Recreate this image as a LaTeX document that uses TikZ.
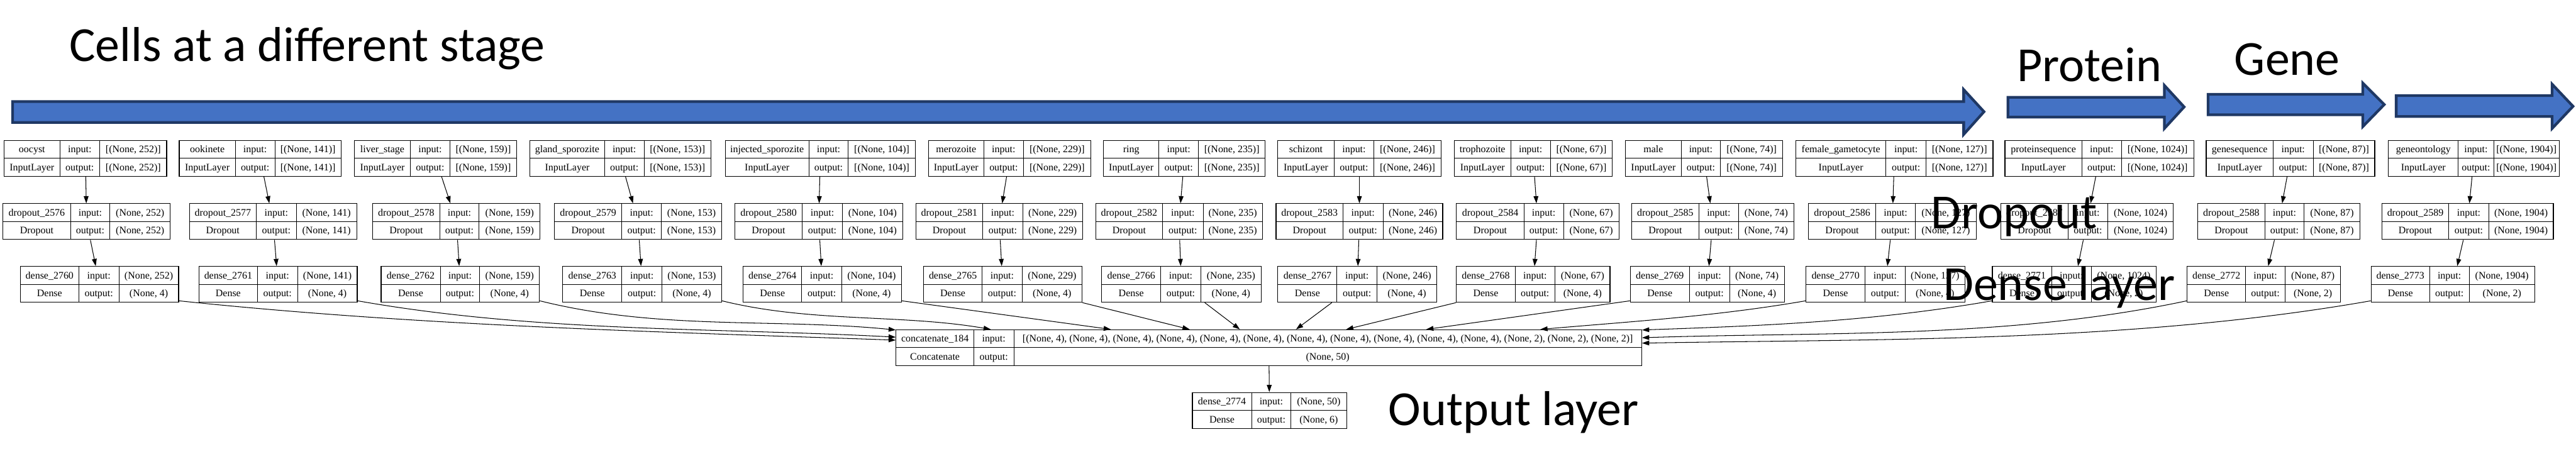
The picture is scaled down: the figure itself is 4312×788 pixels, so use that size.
\documentclass[tikz,border=0pt]{standalone}
\usepackage{fontspec}
\setmainfont{Liberation Serif}
\newfontfamily\calfont{Carlito}
\usetikzlibrary{arrows.meta,fit}
\definecolor{arrowfill}{HTML}{4472C4}
\definecolor{arrowline}{HTML}{1F3864}
\tikzset{
  kbframe/.style={draw=black, line width=1.2pt, inner sep=0pt},
  kbline/.style={draw=black, line width=0.9pt},
  kbtext/.style={font=\fontsize{16.8}{18}\selectfont, inner sep=0pt, anchor=base},
  karrow/.style={draw=black, line width=1.1pt, -{Triangle[length=12pt,width=8pt]}},
  bigtext/.style={font=\calfont\fontsize{82}{90}\selectfont, inner sep=0pt, anchor=base west},
  blockarrow/.style={fill=arrowfill, draw=arrowline, line width=4.5pt, line join=miter},
}
% #1 name, #2 x0, #3 x1, #4 x2, #5 x3, #6 top, #7 label, #8 class, #9 in shape, then {out shape}
\newcommand\kbox[9]{%
  \node[kbframe, fit={(#2,-#6) (#5,-#6-60)}] (#1) {};
  \draw[kbline] (#3,-#6) -- (#3,-#6-60) (#4,-#6) -- (#4,-#6-60) (#2,-#6-30) -- (#5,-#6-30);
  \node[kbtext] (#1-n) at ({(#2+#3)/2},-#6-20.5) {#7};
  \node[kbtext] (#1-c) at ({(#2+#3)/2},-#6-50.5) {#8};
  \node[kbtext] (#1-i) at ({(#3+#4)/2},-#6-20.5) {input:};
  \node[kbtext] (#1-o) at ({(#3+#4)/2},-#6-50.5) {output:};
  \node[kbtext] (#1-si) at ({(#4+#5)/2},-#6-20.5) {#9};
  \kboxout{#1}{#4}{#5}{#6}}
\newcommand\kboxout[5]{\node[kbtext] (#1-so) at ({(#2+#3)/2},-#4-50.5) {#5};}

\begin{document}
\begin{tikzpicture}[x=1pt,y=1pt]
\fill[white] (0,0) rectangle (4312,-788);
\useasboundingbox (0,0) rectangle (4312,-788);

% block arrows
\draw[blockarrow] (21,-170) -- (3287,-170) -- (3287,-150) -- (3321,-187) -- (3287,-225) -- (3287,-205) -- (21,-205) -- cycle;
\draw[blockarrow] (3361,-163) -- (3623,-163) -- (3623,-143) -- (3656,-179) -- (3623,-215) -- (3623,-196) -- (3361,-196) -- cycle;
\draw[blockarrow] (3696,-158) -- (3955,-158) -- (3955,-139) -- (3991,-175) -- (3955,-212) -- (3955,-192) -- (3696,-192) -- cycle;
\draw[blockarrow] (4011,-160) -- (4272,-160) -- (4272,-141) -- (4307,-178) -- (4272,-215) -- (4272,-195) -- (4011,-195) -- cycle;

% input layers
\kbox{in1}{7}{100}{167}{279}{235}{oocyst}{InputLayer}{[(None, 252)]}{[(None, 252)]}
\kbox{in2}{300}{394}{460}{571}{235}{ookinete}{InputLayer}{[(None, 141)]}{[(None, 141)]}
\kbox{in3}{593}{687}{753}{865}{235}{liver\_stage}{InputLayer}{[(None, 159)]}{[(None, 159)]}
\kbox{in4}{887}{1012}{1078}{1190}{235}{gland\_sporozite}{InputLayer}{[(None, 153)]}{[(None, 153)]}
\kbox{in5}{1214}{1354}{1420}{1532}{235}{injected\_sporozite}{InputLayer}{[(None, 104)]}{[(None, 104)]}
\kbox{in6}{1554}{1647}{1713}{1826}{235}{merozoite}{InputLayer}{[(None, 229)]}{[(None, 229)]}
\kbox{in7}{1847}{1940}{2006}{2118}{235}{ring}{InputLayer}{[(None, 235)]}{[(None, 235)]}
\kbox{in8}{2139}{2233}{2300}{2412}{235}{schizont}{InputLayer}{[(None, 246)]}{[(None, 246)]}
\kbox{in9}{2434}{2529}{2595}{2699}{235}{trophozoite}{InputLayer}{[(None, 67)]}{[(None, 67)]}
\kbox{in10}{2721}{2814}{2880}{2984}{235}{male}{InputLayer}{[(None, 74)]}{[(None, 74)]}
\kbox{in11}{3006}{3157}{3224}{3336}{235}{female\_gametocyte}{InputLayer}{[(None, 127)]}{[(None, 127)]}
\kbox{in12}{3356}{3485}{3551}{3672}{235}{proteinsequence}{InputLayer}{[(None, 1024)]}{[(None, 1024)]}
\kbox{in13}{3693}{3805}{3872}{3975}{235}{genesequence}{InputLayer}{[(None, 87)]}{[(None, 87)]}
\kbox{in14}{3998}{4115}{4174}{4284}{235}{geneontology}{InputLayer}{[(None, 1904)]}{[(None, 1904)]}

% dropout layers
\kbox{dr1}{5}{118}{184}{285}{341}{dropout\_2576}{Dropout}{(None, 252)}{(None, 252)}
\kbox{dr2}{317}{429}{496}{597}{341}{dropout\_2577}{Dropout}{(None, 141)}{(None, 141)}
\kbox{dr3}{624}{736}{802}{904}{341}{dropout\_2578}{Dropout}{(None, 159)}{(None, 159)}
\kbox{dr4}{928}{1041}{1107}{1208}{341}{dropout\_2579}{Dropout}{(None, 153)}{(None, 153)}
\kbox{dr5}{1230}{1343}{1410}{1511}{341}{dropout\_2580}{Dropout}{(None, 104)}{(None, 104)}
\kbox{dr6}{1533}{1645}{1712}{1812}{341}{dropout\_2581}{Dropout}{(None, 229)}{(None, 229)}
\kbox{dr7}{1834}{1946}{2014}{2113}{341}{dropout\_2582}{Dropout}{(None, 235)}{(None, 235)}
\kbox{dr8}{2136}{2248}{2315}{2415}{341}{dropout\_2583}{Dropout}{(None, 246)}{(None, 246)}
\kbox{dr9}{2438}{2551}{2617}{2710}{341}{dropout\_2584}{Dropout}{(None, 67)}{(None, 67)}
\kbox{dr10}{2731}{2844}{2910}{3003}{341}{dropout\_2585}{Dropout}{(None, 74)}{(None, 74)}
\kbox{dr11}{3027}{3140}{3206}{3308}{341}{dropout\_2586}{Dropout}{(None, 127)}{(None, 127)}
\kbox{dr12}{3349}{3462}{3528}{3638}{341}{dropout\_2587}{Dropout}{(None, 1024)}{(None, 1024)}
\kbox{dr13}{3679}{3791}{3857}{3950}{341}{dropout\_2588}{Dropout}{(None, 87)}{(None, 87)}
\kbox{dr14}{3987}{4099}{4166}{4274}{341}{dropout\_2589}{Dropout}{(None, 1904)}{(None, 1904)}

% dense layers
\kbox{d1}{34}{132}{199}{299}{446}{dense\_2760}{Dense}{(None, 252)}{(None, 4)}
\kbox{d2}{333}{431}{498}{598}{446}{dense\_2761}{Dense}{(None, 141)}{(None, 4)}
\kbox{d3}{638}{737}{803}{903}{446}{dense\_2762}{Dense}{(None, 159)}{(None, 4)}
\kbox{d4}{942}{1041}{1108}{1208}{446}{dense\_2763}{Dense}{(None, 153)}{(None, 4)}
\kbox{d5}{1244}{1342}{1409}{1509}{446}{dense\_2764}{Dense}{(None, 104)}{(None, 4)}
\kbox{d6}{1546}{1644}{1711}{1811}{446}{dense\_2765}{Dense}{(None, 229)}{(None, 4)}
\kbox{d7}{1844}{1943}{2010}{2111}{446}{dense\_2766}{Dense}{(None, 235)}{(None, 4)}
\kbox{d8}{2139}{2238}{2305}{2405}{446}{dense\_2767}{Dense}{(None, 246)}{(None, 4)}
\kbox{d9}{2438}{2536}{2603}{2695}{446}{dense\_2768}{Dense}{(None, 67)}{(None, 4)}
\kbox{d10}{2729}{2828}{2895}{2987}{446}{dense\_2769}{Dense}{(None, 74)}{(None, 4)}
\kbox{d11}{3023}{3122}{3189}{3289}{446}{dense\_2770}{Dense}{(None, 127)}{(None, 4)}
\kbox{d12}{3335}{3434}{3501}{3609}{446}{dense\_2771}{Dense}{(None, 1024)}{(None, 2)}
\kbox{d13}{3661}{3759}{3825}{3918}{446}{dense\_2772}{Dense}{(None, 87)}{(None, 2)}
\kbox{d14}{3969}{4067}{4133}{4243}{446}{dense\_2773}{Dense}{(None, 1904)}{(None, 2)}

% concatenate and output
\kbox{cc}{1500}{1630}{1697}{2748}{552}{concatenate\_184}{Concatenate}{[(None, 4), (None, 4), (None, 4), (None, 4), (None, 4), (None, 4), (None, 4), (None, 4), (None, 4), (None, 4), (None, 4), (None, 2), (None, 2), (None, 2)]}{(None, 50)}
\kbox{out}{1996}{2095}{2161}{2254}{657}{dense\_2774}{Dense}{(None, 50)}{(None, 6)}

% vertical connectors
\foreach \i in {1,...,14} {
  \draw[karrow] (in\i) -- (dr\i);
  \draw[karrow] (dr\i) -- (d\i);
}
\draw[karrow] (cc) -- (out);

% connectors into concatenate
\draw[karrow] ([yshift=3pt]d1.south east) .. controls +(400,-42) and +(-400,14) .. ([yshift=-18pt]cc.north west);
\draw[karrow] ([yshift=3pt]d2.south east) .. controls +(300,-53) and +(-300,16) .. ([yshift=-13pt]cc.north west);
\draw[karrow] ([yshift=3pt]d3.south east) .. controls +(200,-50) and +(-200,20) .. ([yshift=-1pt]cc.north west);
\draw[karrow] ([yshift=3pt]d4.south east) .. controls +(150,-37) and +(-150,26) .. ([xshift=159pt]cc.north west);
\draw[karrow] ([yshift=3pt]d5.south east) -- ([xshift=360pt]cc.north west);
\draw[karrow] (d6.south east) -- ([xshift=492pt]cc.north west);
\draw[karrow] ([xshift=-95pt]d7.south east) -- ([xshift=576pt]cc.north west);
\draw[karrow] ([xshift=91pt]d8.south west) -- ([xshift=670pt]cc.north west);
\draw[karrow] (d9.south west) -- ([xshift=754pt]cc.north west);
\draw[karrow] ([yshift=3pt]d10.south west) -- ([xshift=888pt]cc.north west);
\draw[karrow] ([yshift=3pt]d11.south west) .. controls +(-150,-26) and +(150,13) .. ([xshift=1079pt]cc.north west);
\draw[karrow] ([yshift=3pt]d12.south west) .. controls +(-200,-35) and +(200,7) .. ([yshift=-1pt]cc.north east);
\draw[karrow] ([yshift=3pt]d13.south west) .. controls +(-300,-64) and +(300,10) .. ([yshift=-14pt]cc.north east);
\draw[karrow] ([yshift=3pt]d14.south west) .. controls +(-400,-70) and +(400,7) .. ([yshift=-23pt]cc.north east);

% big labels
\node[bigtext] (tcells) at (116,-103) {Cells at a different stage};
\node[bigtext] (tprot) at (3376,-136) {Protein};
\node[bigtext] (tgene) at (3740,-126) {Gene};
\node[bigtext] (tdrop) at (3232,-383) {Dropout};
\node[bigtext] (tdense) at (3253,-503) {Dense layer};
\node[bigtext] (tout) at (2324,-712) {Output layer};
\end{tikzpicture}
\end{document}
